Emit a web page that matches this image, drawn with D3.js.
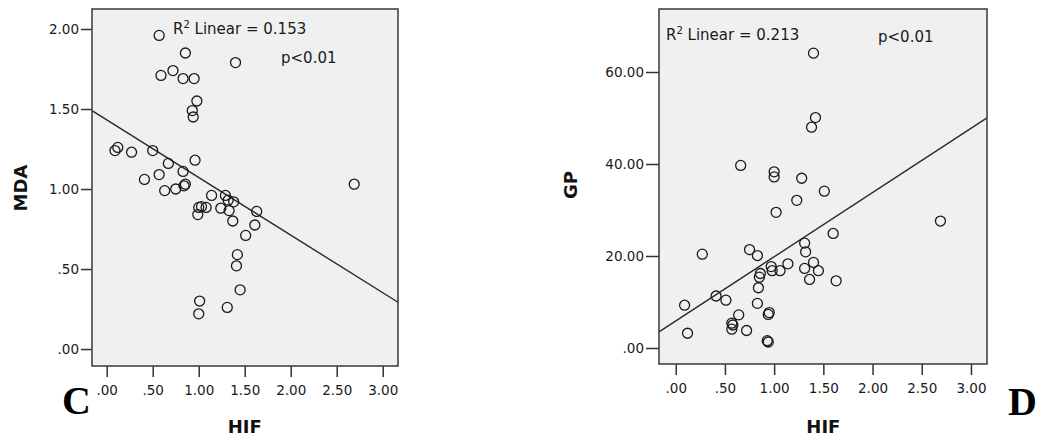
<!DOCTYPE html>
<html>
<head>
<meta charset="utf-8">
<script src="https://cdn.jsdelivr.net/npm/d3@7"></script>
<style>
  body { margin: 0; background: #fff; }
  svg { display: block; }
  .tick text { font-family: "DejaVu Sans", sans-serif; font-size: 13.5px; fill: #1a1a1a; }
  .tick line { stroke: #333; stroke-width: 1.5; }
</style>
</head>
<body>
<div id="chart"></div>
<script>
"use strict";

// panel C : HIF vs MDA
var hifC = [0.57, 0.855, 1.40, 0.59, 0.72, 0.83, 0.95, 0.98, 0.93, 0.94,
            0.09, 0.12, 0.27, 0.50, 0.67, 0.96, 0.83, 0.57, 0.41, 0.63,
            0.75, 0.84, 0.855, 1.14, 1.29, 1.32, 1.38, 2.69, 1.03, 1.00,
            1.08, 1.24, 1.33, 1.63, 0.99, 1.37, 1.61, 1.51, 1.42, 1.41,
            1.45, 1.01, 1.00, 1.31];
var mdaC = [1.96, 1.85, 1.79, 1.71, 1.74, 1.69, 1.69, 1.55, 1.49, 1.45,
            1.24, 1.26, 1.23, 1.24, 1.16, 1.18, 1.11, 1.09, 1.06, 0.99,
            1.00, 1.02, 1.03, 0.96, 0.96, 0.93, 0.92, 1.03, 0.89, 0.885,
            0.885, 0.88, 0.865, 0.86, 0.84, 0.80, 0.775, 0.71, 0.59, 0.52,
            0.37, 0.30, 0.22, 0.26];

// panel D : HIF vs GP
var hifD = [1.40, 1.42, 1.38, 0.66, 1.00, 1.00, 1.28, 1.51, 1.23, 1.02,
            2.69, 1.60, 1.31, 1.32, 0.75, 0.83, 0.27, 1.40, 1.14, 0.97,
            0.98, 1.06, 1.31, 1.45, 0.86, 0.85, 1.36, 1.63, 0.84, 0.41,
            0.51, 0.83, 0.09, 0.64, 0.95, 0.94, 0.57, 0.58, 0.57, 0.72,
            0.12, 0.93, 0.94];
var gpD = [64.1, 50.1, 48.0, 39.7, 38.3, 37.2, 36.9, 34.1, 32.1, 29.5,
           27.6, 24.9, 22.8, 20.9, 21.4, 20.1, 20.4, 18.6, 18.3, 17.7,
           16.8, 16.8, 17.3, 16.8, 16.2, 15.4, 14.9, 14.6, 13.1, 11.3,
           10.4, 9.7, 9.3, 7.2, 7.7, 7.3, 5.4, 5.0, 4.1, 3.8,
           3.2, 1.6, 1.3];

// fit lines [intercept, slope]
var fitC = [1.432, -0.36];
var fitD = [5.87, 13.96];

var xTicks = [0, 0.5, 1, 1.5, 2, 2.5, 3];
var yTicksC = [0, 0.5, 1, 1.5, 2];
var yTicksD = [0, 20, 40, 60];

var width = 1039, height = 437;

var svg = d3.select('#chart').append('svg')
    .attr('width', width)
    .attr('height', height)

function fmt(d) {
    var s = d3.format('.2f')(d);
    return s.indexOf('0.') === 0 ? s.slice(1) : s;
}

function panel(opt) {
    var x = d3.scaleLinear().domain(opt.xDomain).range([opt.left, opt.right]);
    var y = d3.scaleLinear().domain(opt.yDomain).range([opt.bottom, opt.top]);
    var g = svg.append('g');

    g.append('rect')
        .attr('x', opt.left)
        .attr('y', opt.top)
        .attr('width', opt.right - opt.left)
        .attr('height', opt.bottom - opt.top)
        .attr('fill', '#f0f0f0')

    var clipId = 'clip' + opt.name;
    g.append('clipPath').attr('id', clipId)
        .append('rect')
        .attr('x', opt.left).attr('y', opt.top)
        .attr('width', opt.right - opt.left)
        .attr('height', opt.bottom - opt.top)

    var xAxis = d3.axisBottom(x).tickValues(xTicks).tickFormat(fmt)
        .tickSize(11).tickPadding(8);
    var yAxis = d3.axisLeft(y).tickValues(opt.yTicks).tickFormat(fmt)
        .tickSize(opt.yTickSize).tickPadding(2);

    var ax = g.append('g')
        .attr('transform', 'translate(0,' + opt.bottom + ')')
        .call(xAxis)
    ax.select('.domain').remove();

    var ay = g.append('g')
        .attr('transform', 'translate(' + opt.left + ',0)')
        .call(yAxis)
    ay.select('.domain').remove();

    // fit line
    var xs = opt.xDomain;
    g.append('line')
        .attr('clip-path', 'url(#' + clipId + ')')
        .attr('x1', x(xs[0]))
        .attr('y1', y(opt.fit[0] + opt.fit[1] * xs[0]))
        .attr('x2', x(xs[1]))
        .attr('y2', y(opt.fit[0] + opt.fit[1] * xs[1]))
        .attr('stroke', '#2a2a2a')
        .attr('stroke-width', 1.4)

    g.append('g').selectAll('circle')
        .data(opt.xs)
        .enter().append('circle')
        .attr('cx', function(d) { return x(d) })
        .attr('cy', function(d, i) { return y(opt.ys[i]) })
        .attr('r', 5)
        .attr('fill', 'none')
        .attr('stroke', '#1a1a1a')
        .attr('stroke-width', 1.3)

    // frame
    g.append('rect')
        .attr('x', opt.left)
        .attr('y', opt.top)
        .attr('width', opt.right - opt.left)
        .attr('height', opt.bottom - opt.top)
        .attr('fill', 'none')
        .attr('stroke', '#444')
        .attr('stroke-width', 1.6)

    var r2 = g.append('text')
        .attr('x', opt.r2Pos[0])
        .attr('y', opt.r2Pos[1])
        .attr('font-family', 'DejaVu Sans, sans-serif')
        .attr('font-size', '15px')
        .attr('fill', '#1a1a1a')
    r2.append('tspan').text('R');
    r2.append('tspan').attr('dy', -6).attr('font-size', '10px').text('2');
    r2.append('tspan').attr('dy', 6).text(' Linear = ' + opt.r2);

    g.append('text')
        .attr('x', opt.pPos[0])
        .attr('y', opt.pPos[1])
        .attr('font-family', 'DejaVu Sans, sans-serif')
        .attr('font-size', '15px')
        .attr('fill', '#1a1a1a')
        .text('p<0.01')

    g.append('text')
        .attr('x', (x(1.5)))
        .attr('y', 433)
        .attr('text-anchor', 'middle')
        .attr('font-family', 'DejaVu Sans, sans-serif')
        .attr('font-weight', 'bold')
        .attr('font-size', '18px')
        .attr('fill', '#111')
        .text('HIF')

    g.append('text')
        .attr('transform', 'translate(' + opt.yLabelX + ',' + opt.yLabelY + ') rotate(-90)')
        .attr('text-anchor', 'middle')
        .attr('font-family', 'DejaVu Sans, sans-serif')
        .attr('font-weight', 'bold')
        .attr('font-size', '18px')
        .attr('fill', '#111')
        .text(opt.yLabel)

    g.append('text')
        .attr('x', opt.letterPos[0])
        .attr('y', opt.letterPos[1])
        .attr('font-family', 'Liberation Serif, serif')
        .attr('font-weight', 'bold')
        .attr('font-size', '40px')
        .attr('fill', '#000')
        .text(opt.letter)
}

panel({
    name: 'C',
    left: 92, right: 398, top: 9, bottom: 366,
    xDomain: [-0.16, 3.166],
    yDomain: [-0.106, 2.125],
    yTicks: yTicksC,
    yTickSize: 11,
    xs: hifC, ys: mdaC,
    fit: fitC,
    r2: '0.153',
    r2Pos: [173, 34],
    pPos: [281, 63],
    yLabel: 'MDA', yLabelX: 27, yLabelY: 188,
    letter: 'C', letterPos: [62, 414]
});

panel({
    name: 'D',
    left: 659, right: 987, top: 9, bottom: 364,
    xDomain: [-0.17, 3.163],
    yDomain: [-3.48, 73.7],
    yTicks: yTicksD,
    yTickSize: 13,
    xs: hifD, ys: gpD,
    fit: fitD,
    r2: '0.213',
    r2Pos: [666, 40],
    pPos: [878, 42],
    yLabel: 'GP', yLabelX: 577, yLabelY: 185,
    letter: 'D', letterPos: [1008, 415]
});
</script>
</body>
</html>
